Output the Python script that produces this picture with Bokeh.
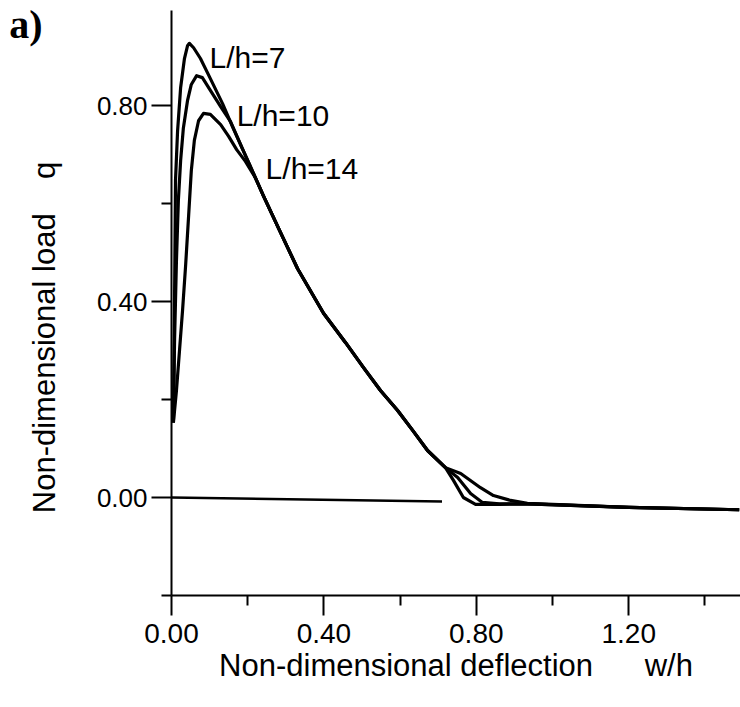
import math
from bokeh.plotting import figure
from bokeh.models import FixedTicker, PrintfTickFormatter, Range1d, LinearAxis, ColumnDataSource
from bokeh.core.properties import value
from bokeh.embed import file_html
from bokeh.resources import INLINE

FONT = "Liberation Sans"
NB = "\u00a0"

# ---- data ----
w_L7 = [0.005, 0.008, 0.0105, 0.016, 0.024, 0.034, 0.042, 0.047, 0.058, 0.076, 0.102, 0.134, 0.160, 0.186, 0.207,
        0.220, 0.241, 0.286, 0.331, 0.399, 0.457, 0.504, 0.549, 0.593, 0.633, 0.672, 0.719,
        0.759, 0.811, 0.845, 0.890, 0.934, 1.20, 1.49]
q_L7 = [0.153, 0.402, 0.647, 0.749, 0.837, 0.896, 0.922, 0.927, 0.918, 0.896, 0.855, 0.804, 0.757, 0.712, 0.676,
        0.653, 0.616, 0.541, 0.467, 0.376, 0.316, 0.265, 0.218, 0.178, 0.137, 0.096, 0.061,
        0.049, 0.020, 0.004, -0.006, -0.012, -0.020, -0.025]

w_L10 = [0.005, 0.008, 0.013, 0.018, 0.024, 0.031, 0.042, 0.052, 0.066, 0.081, 0.102, 0.129, 0.155, 0.186, 0.207,
         0.220, 0.241, 0.286, 0.331, 0.399, 0.457, 0.504, 0.549, 0.593, 0.633, 0.672, 0.719,
         0.751, 0.785, 0.816, 0.86, 0.934, 1.20, 1.49]
q_L10 = [0.153, 0.320, 0.484, 0.606, 0.688, 0.753, 0.810, 0.843, 0.861, 0.857, 0.831, 0.798, 0.767, 0.712, 0.676,
         0.653, 0.616, 0.541, 0.467, 0.376, 0.316, 0.265, 0.218, 0.178, 0.137, 0.096, 0.061,
         0.041, 0.008, -0.010, -0.013, -0.013, -0.020, -0.025]

w_L14 = [0.005, 0.013, 0.021, 0.029, 0.037, 0.045, 0.052, 0.060, 0.071, 0.084, 0.102, 0.129, 0.150, 0.171, 0.194,
         0.220, 0.241, 0.286, 0.331, 0.399, 0.457, 0.504, 0.549, 0.593, 0.633, 0.672, 0.719,
         0.740, 0.766, 0.798, 0.86, 0.934, 1.20, 1.49]
q_L14 = [0.153, 0.218, 0.300, 0.382, 0.473, 0.576, 0.667, 0.729, 0.769, 0.784, 0.782, 0.761, 0.737, 0.710, 0.686,
         0.653, 0.616, 0.541, 0.467, 0.376, 0.316, 0.265, 0.218, 0.178, 0.137, 0.096, 0.061,
         0.035, 0.000, -0.014, -0.014, -0.013, -0.020, -0.025]

zero_w = [0.0, 0.71]
zero_q = [0.0, -0.008]

curve_labels = ["L/h=7", "L/h=10", "L/h=14"]
curve_label_w = [0.100, 0.171, 0.247]
curve_label_q = [0.898, 0.780, 0.671]

x_major = [0.0, 0.4, 0.8, 1.2]
x_minor = [0.2, 0.6, 1.0, 1.4]
y_major = [0.0, 0.4, 0.8]
y_minor = [-0.2, 0.2, 0.6, 1.0]

x_title = "Non-dimensional deflection" + NB * 6 + "w/h"
y_title = "Non-dimensional load" + NB * 4 + "q" + NB * 8
panel_tag = "a)"
panel_tag_q = 0.965

# ---- figure ----
p = figure(width=740, height=705, output_backend="svg", toolbar_location=None,
           x_range=Range1d(0, 1.4934), y_range=Range1d(-0.2, 0.994),
           min_border_left=171, min_border_right=0, min_border_top=10, min_border_bottom=110)
p.outline_line_color = None
p.grid.visible = False
p.background_fill_color = "white"
p.border_fill_color = "white"

for ax in (p.xaxis[0], p.yaxis[0]):
    ax.axis_line_width = 2
    ax.axis_line_color = "black"
    ax.major_tick_line_width = 2
    ax.minor_tick_line_width = 2
    ax.major_tick_line_color = "black"
    ax.minor_tick_line_color = "black"
    ax.major_tick_in = 0
    ax.major_tick_out = 20
    ax.minor_tick_in = 0
    ax.minor_tick_out = 10
    ax.major_label_text_font = FONT
    ax.major_label_text_color = "black"
    ax.formatter = PrintfTickFormatter(format="%.2f")
    ax.axis_label_text_font = FONT
    ax.axis_label_text_font_style = "normal"
    ax.axis_label_text_font_size = "31px"
    ax.axis_label_text_color = "black"

p.xaxis[0].ticker = FixedTicker(ticks=x_major, minor_ticks=x_minor)
p.yaxis[0].ticker = FixedTicker(ticks=y_major, minor_ticks=y_minor)
p.xaxis[0].major_label_text_font_size = "28px"
p.yaxis[0].major_label_text_font_size = "26px"
p.xaxis[0].major_label_standoff = 8
p.yaxis[0].major_label_standoff = 4
p.xaxis[0].axis_label = x_title
p.yaxis[0].axis_label = y_title
p.xaxis[0].axis_label_standoff = 2
p.yaxis[0].axis_label_standoff = 32

# an outer, invisible left axis that only carries the panel tag "a)"
tag_axis = LinearAxis(ticker=FixedTicker(ticks=[panel_tag_q], minor_ticks=[]),
                      major_label_overrides={panel_tag_q: panel_tag})
tag_axis.axis_line_color = None
tag_axis.major_tick_line_color = None
tag_axis.minor_tick_line_color = None
tag_axis.major_tick_in = 0
tag_axis.major_tick_out = 0
tag_axis.minor_tick_in = 0
tag_axis.minor_tick_out = 0
tag_axis.major_label_standoff = -19
tag_axis.major_label_text_font = "Liberation Serif"
tag_axis.major_label_text_font_style = "bold"
tag_axis.major_label_text_font_size = "40px"
tag_axis.major_label_text_color = "black"
p.add_layout(tag_axis, "left")

# curves
for w, q in ((w_L7, q_L7), (w_L10, q_L10), (w_L14, q_L14)):
    p.line(w, q, line_color="black", line_width=3.2, line_join="round")
p.line(zero_w, zero_q, line_color="black", line_width=2.5)

src = ColumnDataSource(dict(x=curve_label_w, y=curve_label_q, t=curve_labels))
p.text(x="x", y="y", text="t", source=src, text_font=value(FONT), text_font_size="30px",
       text_align="left", text_baseline="alphabetic", text_color="black")

open("out.html", "w").write(file_html(p, INLINE))
